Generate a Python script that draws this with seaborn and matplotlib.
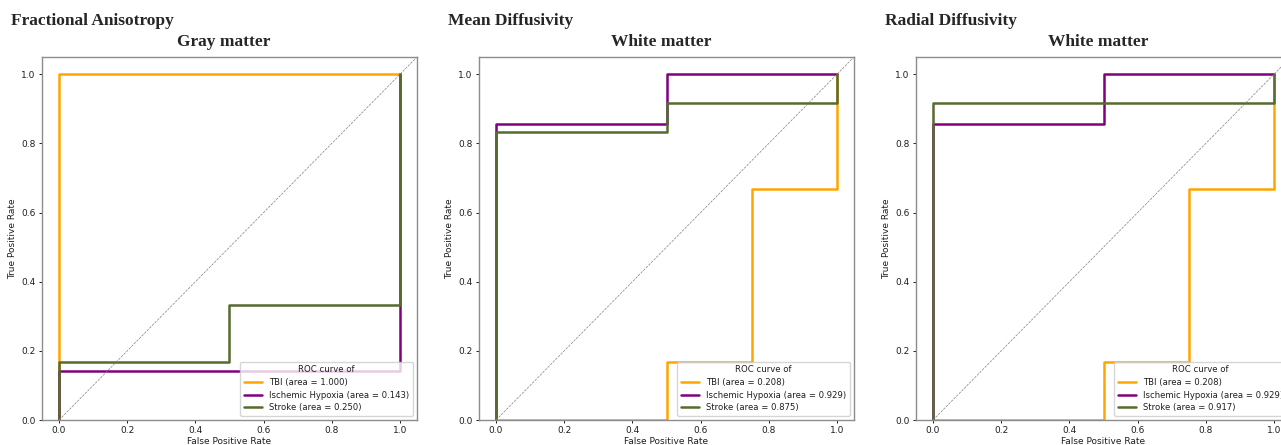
import matplotlib
matplotlib.use("Agg")
import matplotlib.pyplot as plt
import seaborn as sns
import pandas as pd

sns.set_style("ticks")
plt.rcParams['font.family'] = ['DejaVu Sans']

# ---- data ----
measures = ["Fractional Anisotropy", "Mean Diffusivity", "Radial Diffusivity"]
tissues = ["Gray matter", "White matter", "White matter"]
groups = ["TBI", "Ischemic Hypoxia", "Stroke"]
colors = ["orange", "purple", "darkolivegreen"]

# ROC vertices (fpr, tpr) per panel and group
fa_tbi_fpr = [0.0, 0.0, 1.0]
fa_tbi_tpr = [0.0, 1.0, 1.0]
fa_ih_fpr = [0.0, 0.0, 1.0, 1.0]
fa_ih_tpr = [0.0, 0.143, 0.143, 1.0]
fa_st_fpr = [0.0, 0.0, 0.5, 0.5, 1.0, 1.0]
fa_st_tpr = [0.0, 0.167, 0.167, 0.333, 0.333, 1.0]

md_tbi_fpr = [0.0, 0.5, 0.5, 0.75, 0.75, 1.0, 1.0]
md_tbi_tpr = [0.0, 0.0, 0.167, 0.167, 0.667, 0.667, 1.0]
md_ih_fpr = [0.0, 0.0, 0.5, 0.5, 1.0]
md_ih_tpr = [0.0, 0.857, 0.857, 1.0, 1.0]
md_st_fpr = [0.0, 0.0, 0.5, 0.5, 1.0, 1.0]
md_st_tpr = [0.0, 0.833, 0.833, 0.917, 0.917, 1.0]

rd_tbi_fpr = [0.0, 0.5, 0.5, 0.75, 0.75, 1.0, 1.0]
rd_tbi_tpr = [0.0, 0.0, 0.167, 0.167, 0.667, 0.667, 1.0]
rd_ih_fpr = [0.0, 0.0, 0.5, 0.5, 1.0]
rd_ih_tpr = [0.0, 0.857, 0.857, 1.0, 1.0]
rd_st_fpr = [0.0, 0.0, 1.0, 1.0]
rd_st_tpr = [0.0, 0.917, 0.917, 1.0]

fa_areas = [1.000, 0.143, 0.250]
md_areas = [0.208, 0.929, 0.875]
rd_areas = [0.208, 0.929, 0.917]

panels = [
    ([(fa_tbi_fpr, fa_tbi_tpr), (fa_ih_fpr, fa_ih_tpr), (fa_st_fpr, fa_st_tpr)], fa_areas),
    ([(md_tbi_fpr, md_tbi_tpr), (md_ih_fpr, md_ih_tpr), (md_st_fpr, md_st_tpr)], md_areas),
    ([(rd_tbi_fpr, rd_tbi_tpr), (rd_ih_fpr, rd_ih_tpr), (rd_st_fpr, rd_st_tpr)], rd_areas),
]

diag = [0.0, 1.1]

W, H = 1281, 445
fig = plt.figure(figsize=(W / 100, H / 100), dpi=100)

small = 6.5
legsize = 6.1
serif = ['Liberation Serif', 'DejaVu Serif']
spine_col = '0.55'
text_col = '0.12'

for i, ((curves, areas), measure, tissue) in enumerate(zip(panels, measures, tissues)):
    left_px = 42 + i * 437
    ax = fig.add_axes([left_px / W, 1 - 420 / H, 375 / W, 363 / H])
    for (fpr, tpr), g, c, a in zip(curves, groups, colors, areas):
        df = pd.DataFrame({"fpr": fpr, "tpr": tpr})
        sns.lineplot(data=df, x="fpr", y="tpr", sort=False, estimator=None,
                     color=c, lw=1.8, ax=ax, label=f"{g} (area = {a:.3f})")
    ax.plot(diag, diag, color='gray', ls='--', lw=0.5)
    ax.set_xlim(-0.05, 1.05)
    ax.set_ylim(0.0, 1.05)
    ax.set_xticks([0.0, 0.2, 0.4, 0.6, 0.8, 1.0])
    ax.set_yticks([0.0, 0.2, 0.4, 0.6, 0.8, 1.0])
    ax.tick_params(labelsize=small, length=2.5, width=0.7, colors=text_col, pad=2)
    for sp in ax.spines.values():
        sp.set_color(spine_col)
        sp.set_linewidth(1.0)
    ax.set_xlabel("False Positive Rate", fontsize=small, color=text_col, labelpad=1)
    ax.set_ylabel("True Positive Rate", fontsize=small, color=text_col, labelpad=3)
    ax.set_title(tissue, fontsize=12.5, fontweight='bold', family=serif, pad=8,
                 x=0.485)
    leg = ax.legend(loc='lower right', title="ROC curve of", fontsize=legsize,
                    title_fontsize=legsize, framealpha=0.8, borderpad=0.4,
                    handlelength=2.2, labelspacing=0.45)
    for t in leg.get_texts():
        t.set_color(text_col)
    leg.get_title().set_color(text_col)
    fig.text((left_px - 31) / W, 1 - 25 / H, measure, fontsize=12.5,
             fontweight='bold', family=serif, ha='left', va='baseline')

fig.savefig("out.png", dpi=100)
